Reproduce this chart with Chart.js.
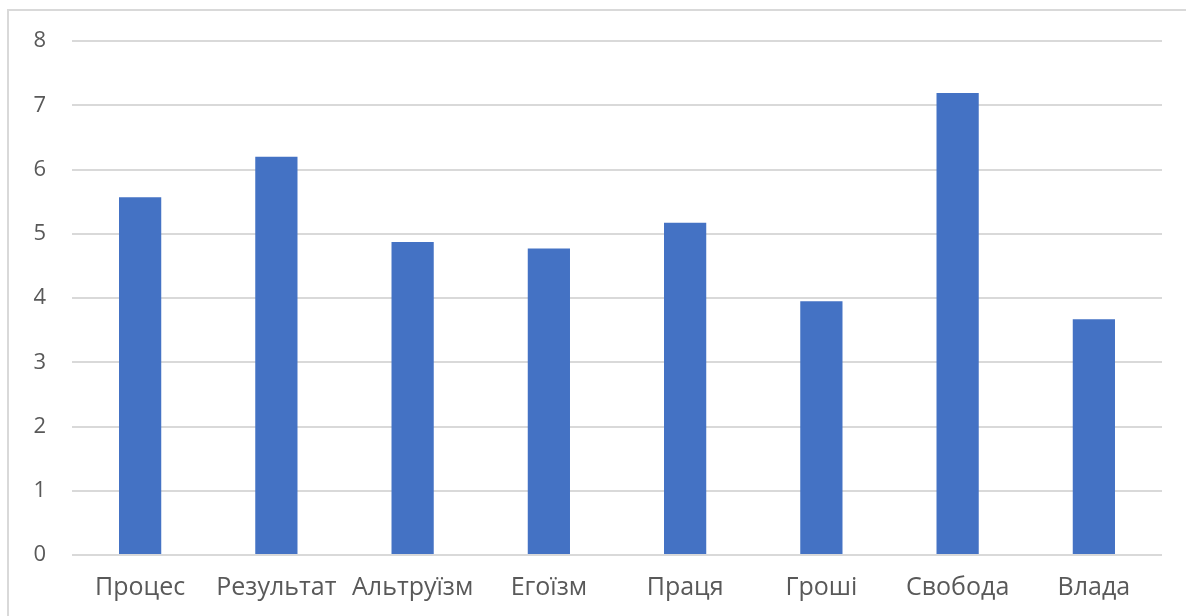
<!DOCTYPE html>
<html>
<head>
<meta charset="utf-8">
<script src="https://cdn.jsdelivr.net/npm/chart.js@4/dist/chart.umd.min.js"></script>
<style>
html,body{margin:0;padding:0;background:#fff;}
#wrap{position:absolute;left:0;top:0;width:1186px;height:616px;}
#frame{position:absolute;left:7px;top:9px;right:0;bottom:0;border-top:2px solid #d9d9d9;border-left:2px solid #d9d9d9;pointer-events:none;}
canvas{position:absolute;left:0;top:0;}
</style>
</head>
<body>
<div id="wrap">
<canvas id="c" width="1186" height="616"></canvas>
<div id="frame"></div>
</div>
<script>
const categories = ["Процес","Результат","Альтруїзм","Егоїзм","Праця","Гроші","Свобода","Влада"];
const values = [5.57, 6.2, 4.87, 4.77, 5.17, 3.95, 7.19, 3.67];
const yTicks = [0,1,2,3,4,5,6,7,8];

const xFont = {family:"'Open Sans', 'Noto Sans', sans-serif", size:25};
const yFont = {family:"'Open Sans', 'Noto Sans', sans-serif", size:22};
new Chart(document.getElementById('c'), {
  type:'bar',
  data:{labels:categories, datasets:[{data:values, backgroundColor:'#4472c4', borderWidth:0, barPercentage:0.31, categoryPercentage:1}]},
  options:{
    responsive:false, animation:false,
    layout:{padding:{top:41, right:24, left:0, bottom:0}},
    plugins:{legend:{display:false}, tooltip:{enabled:false}},
    scales:{
      x:{
        grid:{display:false, drawTicks:false},
        border:{display:false},
        ticks:{color:'#595959', font:xFont, padding:18, maxRotation:0, autoSkip:false},
        afterFit:(s)=>{s.height=61;}
      },
      y:{
        min:0, max:8,
        afterBuildTicks:(s)=>{s.ticks = yTicks.map(v=>({value:v}));},
        grid:{color:'#d9d9d9', lineWidth:2, drawTicks:false},
        border:{display:false},
        ticks:{color:'#595959', font:yFont, padding:26},
        afterFit:(s)=>{s.width=72;}
      }
    }
  }
});
</script>
</body>
</html>
